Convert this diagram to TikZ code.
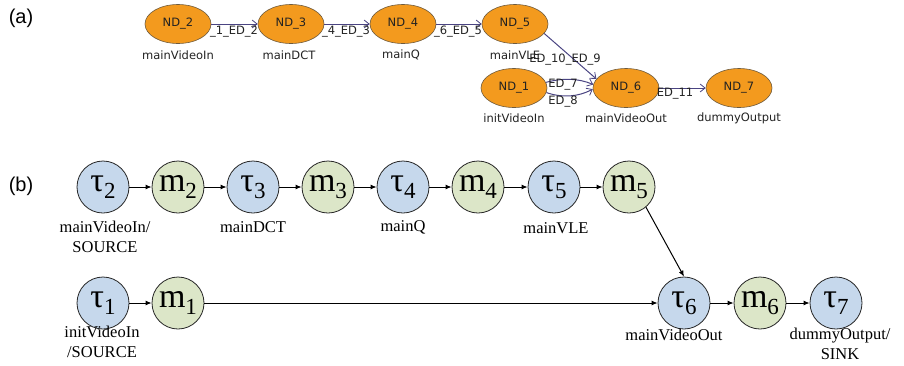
\documentclass[tikz,border=0pt]{standalone}
\usepackage{fontspec}
\setmainfont{Liberation Serif}
\newfontfamily\dvfont{DejaVu Sans}
\newfontfamily\arlfont{Liberation Sans}
\usetikzlibrary{shapes.geometric,arrows.meta}
\definecolor{ndor}{HTML}{F39A1E}
\definecolor{ndbd}{HTML}{6E5A3C}
\definecolor{edgec}{HTML}{4A4482}
\definecolor{txtc}{HTML}{222222}
\definecolor{tblue}{HTML}{C6D8EC}
\definecolor{mgreen}{HTML}{DCE6C8}
\begin{document}
\begin{tikzpicture}[x=1pt,y=-1pt,
  nd/.style={ellipse,fill=ndor,draw=ndbd,line width=0.6pt,minimum width=66pt,minimum height=39pt,inner sep=0pt,font=\dvfont\fontsize{11.5}{13}\selectfont,text=txtc},
  ndlab/.style={font=\dvfont\fontsize{11.5}{13}\selectfont,text=txtc,inner sep=0pt},
  elab/.style={font=\dvfont\fontsize{11.5}{13}\selectfont,text=txtc,inner sep=0pt},
  ae/.style={draw=edgec,line width=1pt,-{Straight Barb[length=5pt,width=8pt,line width=0.8pt]}},
  tn/.style={circle,fill=tblue,draw=black!85,line width=0.8pt,minimum size=52pt,inner sep=0pt,font=\fontsize{34}{34}\selectfont},
  mn/.style={circle,fill=mgreen,draw=black!85,line width=0.8pt,minimum size=52pt,inner sep=0pt,font=\fontsize{34}{34}\selectfont},
  blab/.style={font=\fontsize{16.5}{19.5}\selectfont,align=center,inner sep=0pt},
  be/.style={draw=black,line width=1pt,-{Latex[length=6pt,width=5pt]}},
  plab/.style={font=\arlfont\fontsize{20}{24}\selectfont,inner sep=0pt}
]
\useasboundingbox (0,0) rectangle (904,365);
\newcommand{\sbs}[1]{\raisebox{-7pt}{\fontsize{23}{23}\selectfont #1}}
% panel labels
\node[plab] (pa) at (21,18) {(a)};
\node[plab] (pb) at (21,186) {(b)};
% ---- (a)
\node[nd] (n2) at (178,24) {ND\_2};
\node[nd] (n3) at (291,24) {ND\_3};
\node[nd] (n4) at (403,24) {ND\_4};
\node[nd] (n5) at (515,24) {ND\_5};
\node[nd] (n1) at (514,88) {ND\_1};
\node[nd] (n6) at (626,88) {ND\_6};
\node[nd] (n7) at (739,88) {ND\_7};
\node[ndlab] (l2) at (178,55) {mainVideoIn};
\node[ndlab] (l3) at (289,55) {mainDCT};
\node[ndlab] (l4) at (401,55) {mainQ};
\node[ndlab] (l5) at (515,55) {mainVLE};
\node[ndlab] (l1) at (514,118) {initVideoIn};
\node[ndlab] (l6) at (626,118) {mainVideoOut};
\node[ndlab] (l7) at (739,118) {dummyOutput};
\draw[ae] (n2) -- (n3);
\draw[ae] (n3) -- (n4);
\draw[ae] (n4) -- (n5);
\draw[ae] (n5.-18) -- (n6.163);
\draw[ae] (n1.10) .. controls (562,78) and (578,78) .. (n6.174);
\draw[ae] (n1.-8) .. controls (562,98) and (578,97) .. (n6.-178);
\draw[ae] (n6) -- (n7);
\node[elab] (e1) at (234,32) {\_1\_ED\_2};
\node[elab] (e2) at (346,32) {\_4\_ED\_3};
\node[elab] (e3) at (458,32) {\_6\_ED\_5};
\node[elab] (e4) at (565,60) {ED\_10\_ED\_9};
\node[elab] (e5) at (563,85) {ED\_7};
\node[elab] (e6) at (563,102) {ED\_8};
\node[elab] (e7) at (675,94) {ED\_11};
% ---- (b)
\node[tn] (t2) at (103,187) {τ\sbs{2}};
\node[mn] (m2) at (178,187) {m\sbs{2}};
\node[tn] (t3) at (253,187) {τ\sbs{3}};
\node[mn] (m3) at (328,187) {m\sbs{3}};
\node[tn] (t4) at (403,187) {τ\sbs{4}};
\node[mn] (m4) at (478,187) {m\sbs{4}};
\node[tn] (t5) at (554,187) {τ\sbs{5}};
\node[mn] (m5) at (629,187) {m\sbs{5}};
\node[tn] (t1) at (103,303) {τ\sbs{1}};
\node[mn] (m1) at (178,303) {m\sbs{1}};
\node[tn] (t6) at (684,303) {τ\sbs{6}};
\node[mn] (m6) at (760,303) {m\sbs{6}};
\node[tn] (t7) at (836,303) {τ\sbs{7}};
\node[blab] (b2) at (105,237) {mainVideoIn/\\SOURCE};
\node[blab] (b3) at (253,227) {mainDCT};
\node[blab] (b4) at (403,227) {mainQ};
\node[blab] (b5) at (556,228) {mainVLE};
\node[blab] (b1) at (102,342) {initVideoIn\\/SOURCE};
\node[blab] (b6) at (674,335) {mainVideoOut};
\node[blab] (b7) at (840,344) {dummyOutput/\\SINK};
\draw[be] (t2) -- (m2);
\draw[be] (m2) -- (t3);
\draw[be] (t3) -- (m3);
\draw[be] (m3) -- (t4);
\draw[be] (t4) -- (m4);
\draw[be] (m4) -- (t5);
\draw[be] (t5) -- (m5);
\draw[be] (m5.-50) -- (t6.north);
\draw[be] (t1) -- (m1);
\draw[be] (m1) -- (t6);
\draw[be] (t6) -- (m6);
\draw[be] (m6) -- (t7);
\end{tikzpicture}
\end{document}
